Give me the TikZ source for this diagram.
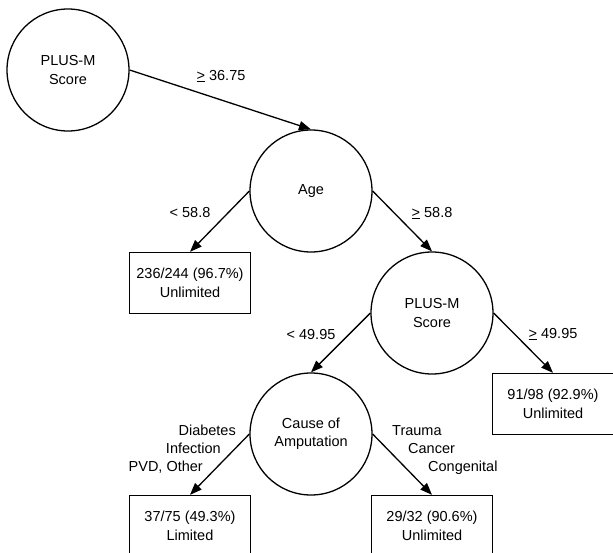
\documentclass[tikz,border=0pt]{standalone}
\usepackage{fontspec}
\setmainfont{Liberation Sans}
\usetikzlibrary{arrows.meta}
\begin{document}
\begin{tikzpicture}[x=1pt,y=-1pt,
  every node/.style={font=\fontsize{14.5pt}{18.5pt}\selectfont, inner sep=0pt},
  splitnode/.style={circle, draw, line width=1.3pt, minimum size=122pt, align=center},
  leafbox/.style={rectangle, draw, line width=1.3pt, minimum width=121pt, minimum height=61pt, align=center},
  edgelabel/.style={text height=11pt, text depth=3pt},
  conn/.style={line width=1.3pt, -{Triangle[length=12pt,width=9pt]}}]
\useasboundingbox (0,0) rectangle (613,552);
\node[splitnode] (c1) at (68,70) {PLUS-M\\Score};
\node[splitnode] (age) at (311,191) {Age};
\node[leafbox] (b1) at (190,283) {236/244 (96.7\%)\\Unlimited};
\node[splitnode] (c2) at (432,313) {PLUS-M\\Score};
\node[splitnode] (cause) at (311,434) {Cause of\\Amputation};
\node[leafbox] (b2) at (553,404) {91/98 (92.9\%)\\Unlimited};
\node[leafbox] (b3) at (190,526) {37/75 (49.3\%)\\Limited};
\node[leafbox] (b4) at (432,526) {29/32 (90.6\%)\\Unlimited};

\draw[conn] (c1.east) -- (age.north);
\draw[conn] (age.west) -- (b1.north);
\draw[conn] (age.east) -- (c2.north);
\draw[conn] (c2.west) -- (cause.north);
\draw[conn] (c2.east) -- (b2.north);
\draw[conn] (cause.west) -- (b3.north);
\draw[conn] (cause.east) -- (b4.north);

\node[edgelabel] (l1) at (221,76) {\underline{>} 36.75};
\node[edgelabel] (l2) at (190,213) {< 58.8};
\node[edgelabel] (l3) at (432,213) {\underline{>} 58.8};
\node[edgelabel] (l4) at (311,335) {< 49.95};
\node[edgelabel] (l5) at (553,334) {\underline{>} 49.95};
\node[edgelabel, anchor=east] (d1) at (236,431) {Diabetes};
\node[edgelabel, anchor=east] (d2) at (221,449) {Infection};
\node[edgelabel, anchor=east] (d3) at (203,467) {PVD, Other};
\node[edgelabel, anchor=west] (t1) at (392,431) {Trauma};
\node[edgelabel, anchor=west] (t2) at (408,449) {Cancer};
\node[edgelabel, anchor=west] (t3) at (428,467) {Congenital};
\end{tikzpicture}
\end{document}
